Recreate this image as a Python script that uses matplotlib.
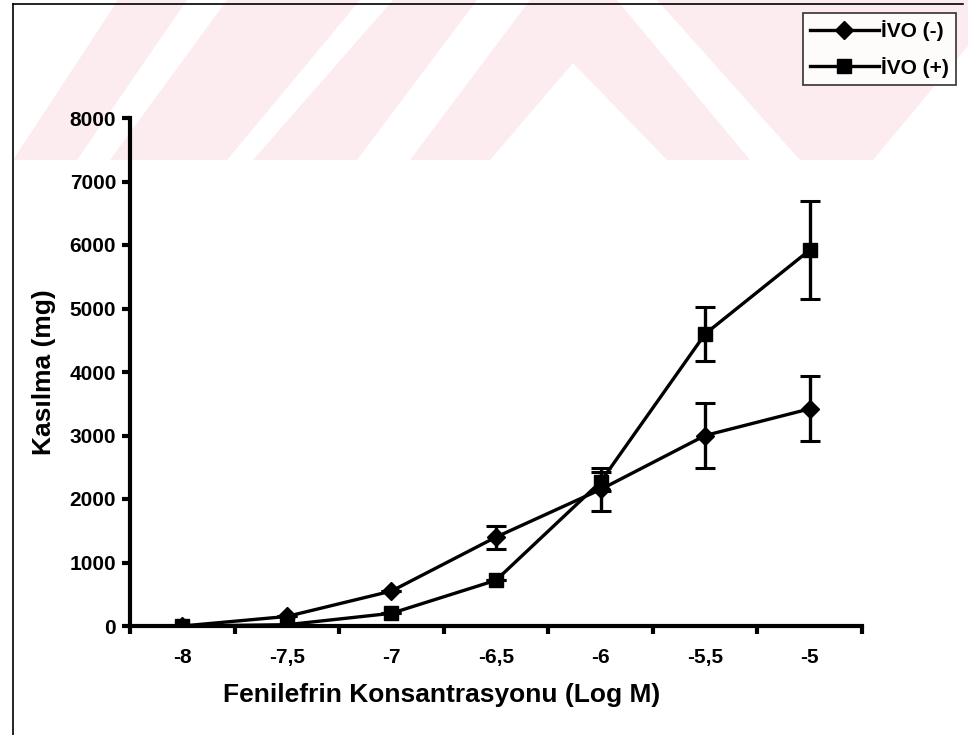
import numpy as np
import matplotlib
matplotlib.use("Agg")
import matplotlib.pyplot as plt
from matplotlib.patches import Polygon
from matplotlib.lines import Line2D

plt.rcParams["font.family"] = ["Liberation Sans", "DejaVu Sans"]
plt.rcParams["font.weight"] = "bold"

# data
x_labels = ["-8", "-7,5", "-7", "-6,5", "-6", "-5,5", "-5"]
ivo_neg = [0, 150, 550, 1400, 2150, 3000, 3420]
ivo_neg_err = [0, 0, 0, 180, 340, 510, 510]
ivo_pos = [0, 20, 200, 720, 2270, 4600, 5920]
ivo_pos_err = [0, 0, 0, 0, 150, 430, 770]

W, H = 968, 735
fig = plt.figure(figsize=(W / 100, H / 100), dpi=100)


def px(x, y):
    return (x / W, 1 - y / H)


# faint pink watermark band at the top
pink = "#fdecef"
shapes = [
    [(13, 160), (118, 0), (187, 0), (77, 160)],
    [(110, 160), (227, 0), (360, 0), (227, 160)],
    [(253, 160), (393, 0), (477, 0), (357, 160)],
    [(410, 160), (530, 0), (617, 0), (750, 160), (667, 160), (573, 63), (490, 160)],
    [(657, 0), (968, 0), (968, 46), (873, 160), (800, 160)],
]
for s in shapes:
    fig.patches.append(Polygon([px(*p) for p in s], closed=True, transform=fig.transFigure,
                               facecolor=pink, edgecolor="none", zorder=-5))

# page frame (left and top edges)
fig.lines.append(Line2D([13 / W, 13 / W], [0, 1 - 4 / H], transform=fig.transFigure, color="black", lw=1.2))
fig.lines.append(Line2D([13 / W, 963 / W], [1 - 4 / H, 1 - 4 / H], transform=fig.transFigure, color="black", lw=1.2))

ax = fig.add_axes([130 / W, 1 - 626 / H, 732 / W, 508 / H])
ax.patch.set_visible(False)

x = np.arange(len(x_labels))
ax.errorbar(x, ivo_neg, yerr=ivo_neg_err, color="black", lw=2.4, marker="D", ms=9,
            capsize=7, capthick=2.2, elinewidth=2.4, zorder=3)
ax.errorbar(x, ivo_pos, yerr=ivo_pos_err, color="black", lw=2.4, marker="s", ms=10,
            capsize=7, capthick=2.2, elinewidth=2.4, zorder=3)

ax.set_xlim(-0.5, len(x_labels) - 0.5)
ax.set_ylim(0, 8000)
ax.set_yticks(range(0, 8001, 1000))
ax.set_yticklabels([str(v) for v in range(0, 8001, 1000)], fontsize=15, fontweight="bold")
ax.set_xticks(x)
ax.set_xticklabels(x_labels, fontsize=15, fontweight="bold")
ax.set_xticks(np.arange(-0.5, len(x_labels)), minor=True)
ax.tick_params(axis="x", which="major", length=0, pad=16)
ax.tick_params(axis="x", which="minor", length=6, width=3, direction="out")
ax.tick_params(axis="y", length=6, width=3, direction="out", pad=4)

for side in ["top", "right"]:
    ax.spines[side].set_visible(False)
for side in ["left", "bottom"]:
    ax.spines[side].set_linewidth(3)

ax.set_xlabel("Fenilefrin Konsantrasyonu (Log M)", fontsize=19, fontweight="bold")
ax.xaxis.set_label_coords((442 - 130) / 732, -(695 - 626) / 508)
ax.xaxis.label.set_va("center")
ax.set_ylabel("Kasılma (mg)", fontsize=19, fontweight="bold", labelpad=10)

handles = [
    Line2D([], [], color="black", lw=2.4, marker="D", ms=9),
    Line2D([], [], color="black", lw=2.4, marker="s", ms=10),
]
leg = fig.legend(handles, ["İVO (-)", "İVO (+)"], loc="upper right", bbox_to_anchor=px(956, 13),
                 frameon=True, fancybox=False, edgecolor="black", fontsize=15, handlelength=3.3,
                 handletextpad=0.1, borderpad=0.35, labelspacing=0.75, borderaxespad=0)
leg.get_frame().set_linewidth(1.2)
for t in leg.get_texts():
    t.set_fontweight("bold")

fig.savefig("out.png", dpi=100)
